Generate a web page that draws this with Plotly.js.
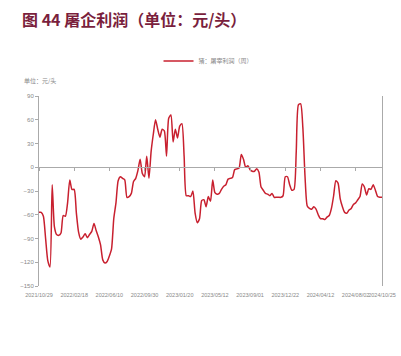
<!DOCTYPE html>
<html>
<head>
<meta charset="utf-8">
<script src="https://cdn.plot.ly/plotly-3.0.1.min.js"></script>
<style>html,body{margin:0;padding:0;background:#fff;}#chart{width:401px;height:356px;}</style>
</head>
<body>
<div id="chart"></div>
<script>
// Weekly slaughter-plant profit (yuan/head), starting 2021/10/29
const startDate = "2021-10-29";
const profit = [
  -57, -57, -62, -90, -118, -126, -22, -75, -85, -86,
  -83, -61, -62, -45, -16, -28, -28, -58, -82, -91,
  -88, -84, -89, -85, -81, -71, -80, -88, -98, -117,
  -121, -119, -112, -103, -65, -45, -17, -12, -14, -16,
  -38, -37, -33, -18, -14, -4, 10, -8, -12, 14,
  -14, 20, 42, 60, 48, 38, 48, 46, 14, 62,
  66, 32, 48, 37, 52, 55, 14, -36, -36, -37,
  -30, -58, -70, -65, -42, -41, -50, -37, -43, -16,
  -32, -34, -33, -28, -24, -22, -15, -14, -13, -3,
  -2, -1, 16, 10, 0, 2, -3, -5, -5, -2,
  -6, -25, -29, -33, -34, -36, -33, -38, -38, -38,
  -38, -36, -12, -12, -22, -29, -28, 20, 79, 80,
  50, -12, -49, -52, -53, -50, -53, -60, -65, -65,
  -66, -63, -61, -52, -36, -17, -20, -40, -50, -57,
  -58, -54, -52, -47, -45, -41, -37, -21, -25, -35,
  -27, -28, -22, -29, -37, -38, -38
];
const tickLabels = ["2021/10/29","2022/02/18","2022/06/10","2022/09/30","2023/01/20","2023/05/12","2023/09/01","2023/12/22","2024/04/12","2024/08/02","2024/10/25"];
const yTicks = [90, 60, 30, 0, -30, -60, -90, -120, -150];
const seriesName = "猪：屠宰利润（周）";
const titleText = "图 44 屠企利润（单位：元/头）";
const unitText = "单位：元/头";
const sourceText = "数据来源：Mysteel 宝城期货金融研究所";

function addDays(s, n) {
  const d = new Date(s + "T00:00:00Z");
  d.setUTCDate(d.getUTCDate() + n);
  return d.toISOString().slice(0, 10);
}
const dates = profit.map((_, i) => addDays(startDate, 7 * i));
const tickVals = tickLabels.map(t => t.replace(/\//g, "-"));

const narrow = "Liberation Sans Narrow, Liberation Sans, Arial, sans-serif";
const cjk = "Noto Sans CJK SC, sans-serif";

const traces = [
  {
    x: dates, y: profit, type: "scatter", mode: "lines", name: seriesName,
    line: {color: "#c8202f", width: 1.5, shape: "spline", smoothing: 0.6},
    hoverinfo: "skip"
  },
  {
    x: dates, y: profit, type: "scatter", mode: "lines", xaxis: "x2",
    line: {width: 0}, showlegend: false, hoverinfo: "skip", opacity: 0
  }
];

const yr = [-150, 90];
const layout = {
  width: 401, height: 356,
  margin: {l: 39, r: 19, t: 96, b: 70},
  paper_bgcolor: "#fff", plot_bgcolor: "#fff",
  showlegend: true,
  legend: {
    orientation: "h", xref: "container", yref: "container",
    x: 0.52, xanchor: "center", y: 1 - 61/356, yanchor: "middle",
    font: {family: cjk, size: 6, color: "#888"},
    bgcolor: "rgba(0,0,0,0)"
  },
  title: {
    text: "<b>" + titleText + "</b>",
    font: {family: cjk, size: 16, color: "#7a1f3d"},
    xref: "container", yref: "container",
    x: 22/401, xanchor: "left", y: 1 - 20/356, yanchor: "middle"
  },
  xaxis: {
    type: "date", range: [dates[0], dates[dates.length - 1]],
    tickvals: tickVals, ticktext: tickLabels, tickangle: 0,
    showgrid: false, zeroline: false, showline: false, ticks: "",
    tickfont: {family: narrow, size: 5.5, color: "#888"},
    ticklabelstandoff: 4
  },
  xaxis2: {
    type: "date", overlaying: "x", anchor: "free",
    position: (0 - yr[0]) / (yr[1] - yr[0]),
    range: [dates[0], dates[dates.length - 1]],
    tickvals: tickVals, showticklabels: false,
    showgrid: false, zeroline: false, showline: true,
    linecolor: "#aaa", linewidth: 1,
    ticks: "outside", ticklen: 3, tickcolor: "#aaa", side: "bottom"
  },
  yaxis: {
    range: yr, tickvals: yTicks,
    showgrid: false, zeroline: false,
    showline: true, linecolor: "#aaa", linewidth: 1, mirror: true,
    ticks: "outside", ticklen: 3, tickcolor: "#aaa",
    tickfont: {family: narrow, size: 6, color: "#888"}
  },
  annotations: [
    {text: unitText, xref: "paper", yref: "paper", x: -17/343, y: 1 + 16/190,
     xanchor: "left", yanchor: "middle", showarrow: false,
     font: {family: cjk, size: 6, color: "#888"}},
    {text: sourceText, xref: "container", yref: "container", x: 23/401, y: 1 - 334/356,
     xanchor: "left", yanchor: "middle", showarrow: false,
     font: {family: cjk, size: 13, color: "#111"}}
  ],
  shapes: [
    {type: "line", xref: "container", yref: "container", x0: 22/401, x1: 397/401,
     y0: 1 - 33/356, y1: 1 - 33/356, line: {color: "#b97a92", width: 1.2}},
    {type: "line", xref: "container", yref: "container", x0: 22/401, x1: 397/401,
     y0: 1 - 313/356, y1: 1 - 313/356, line: {color: "#b97a92", width: 1.2}}
  ]
};

Plotly.newPlot("chart", traces, layout, {displayModeBar: false, staticPlot: true});
</script>
</body>
</html>
